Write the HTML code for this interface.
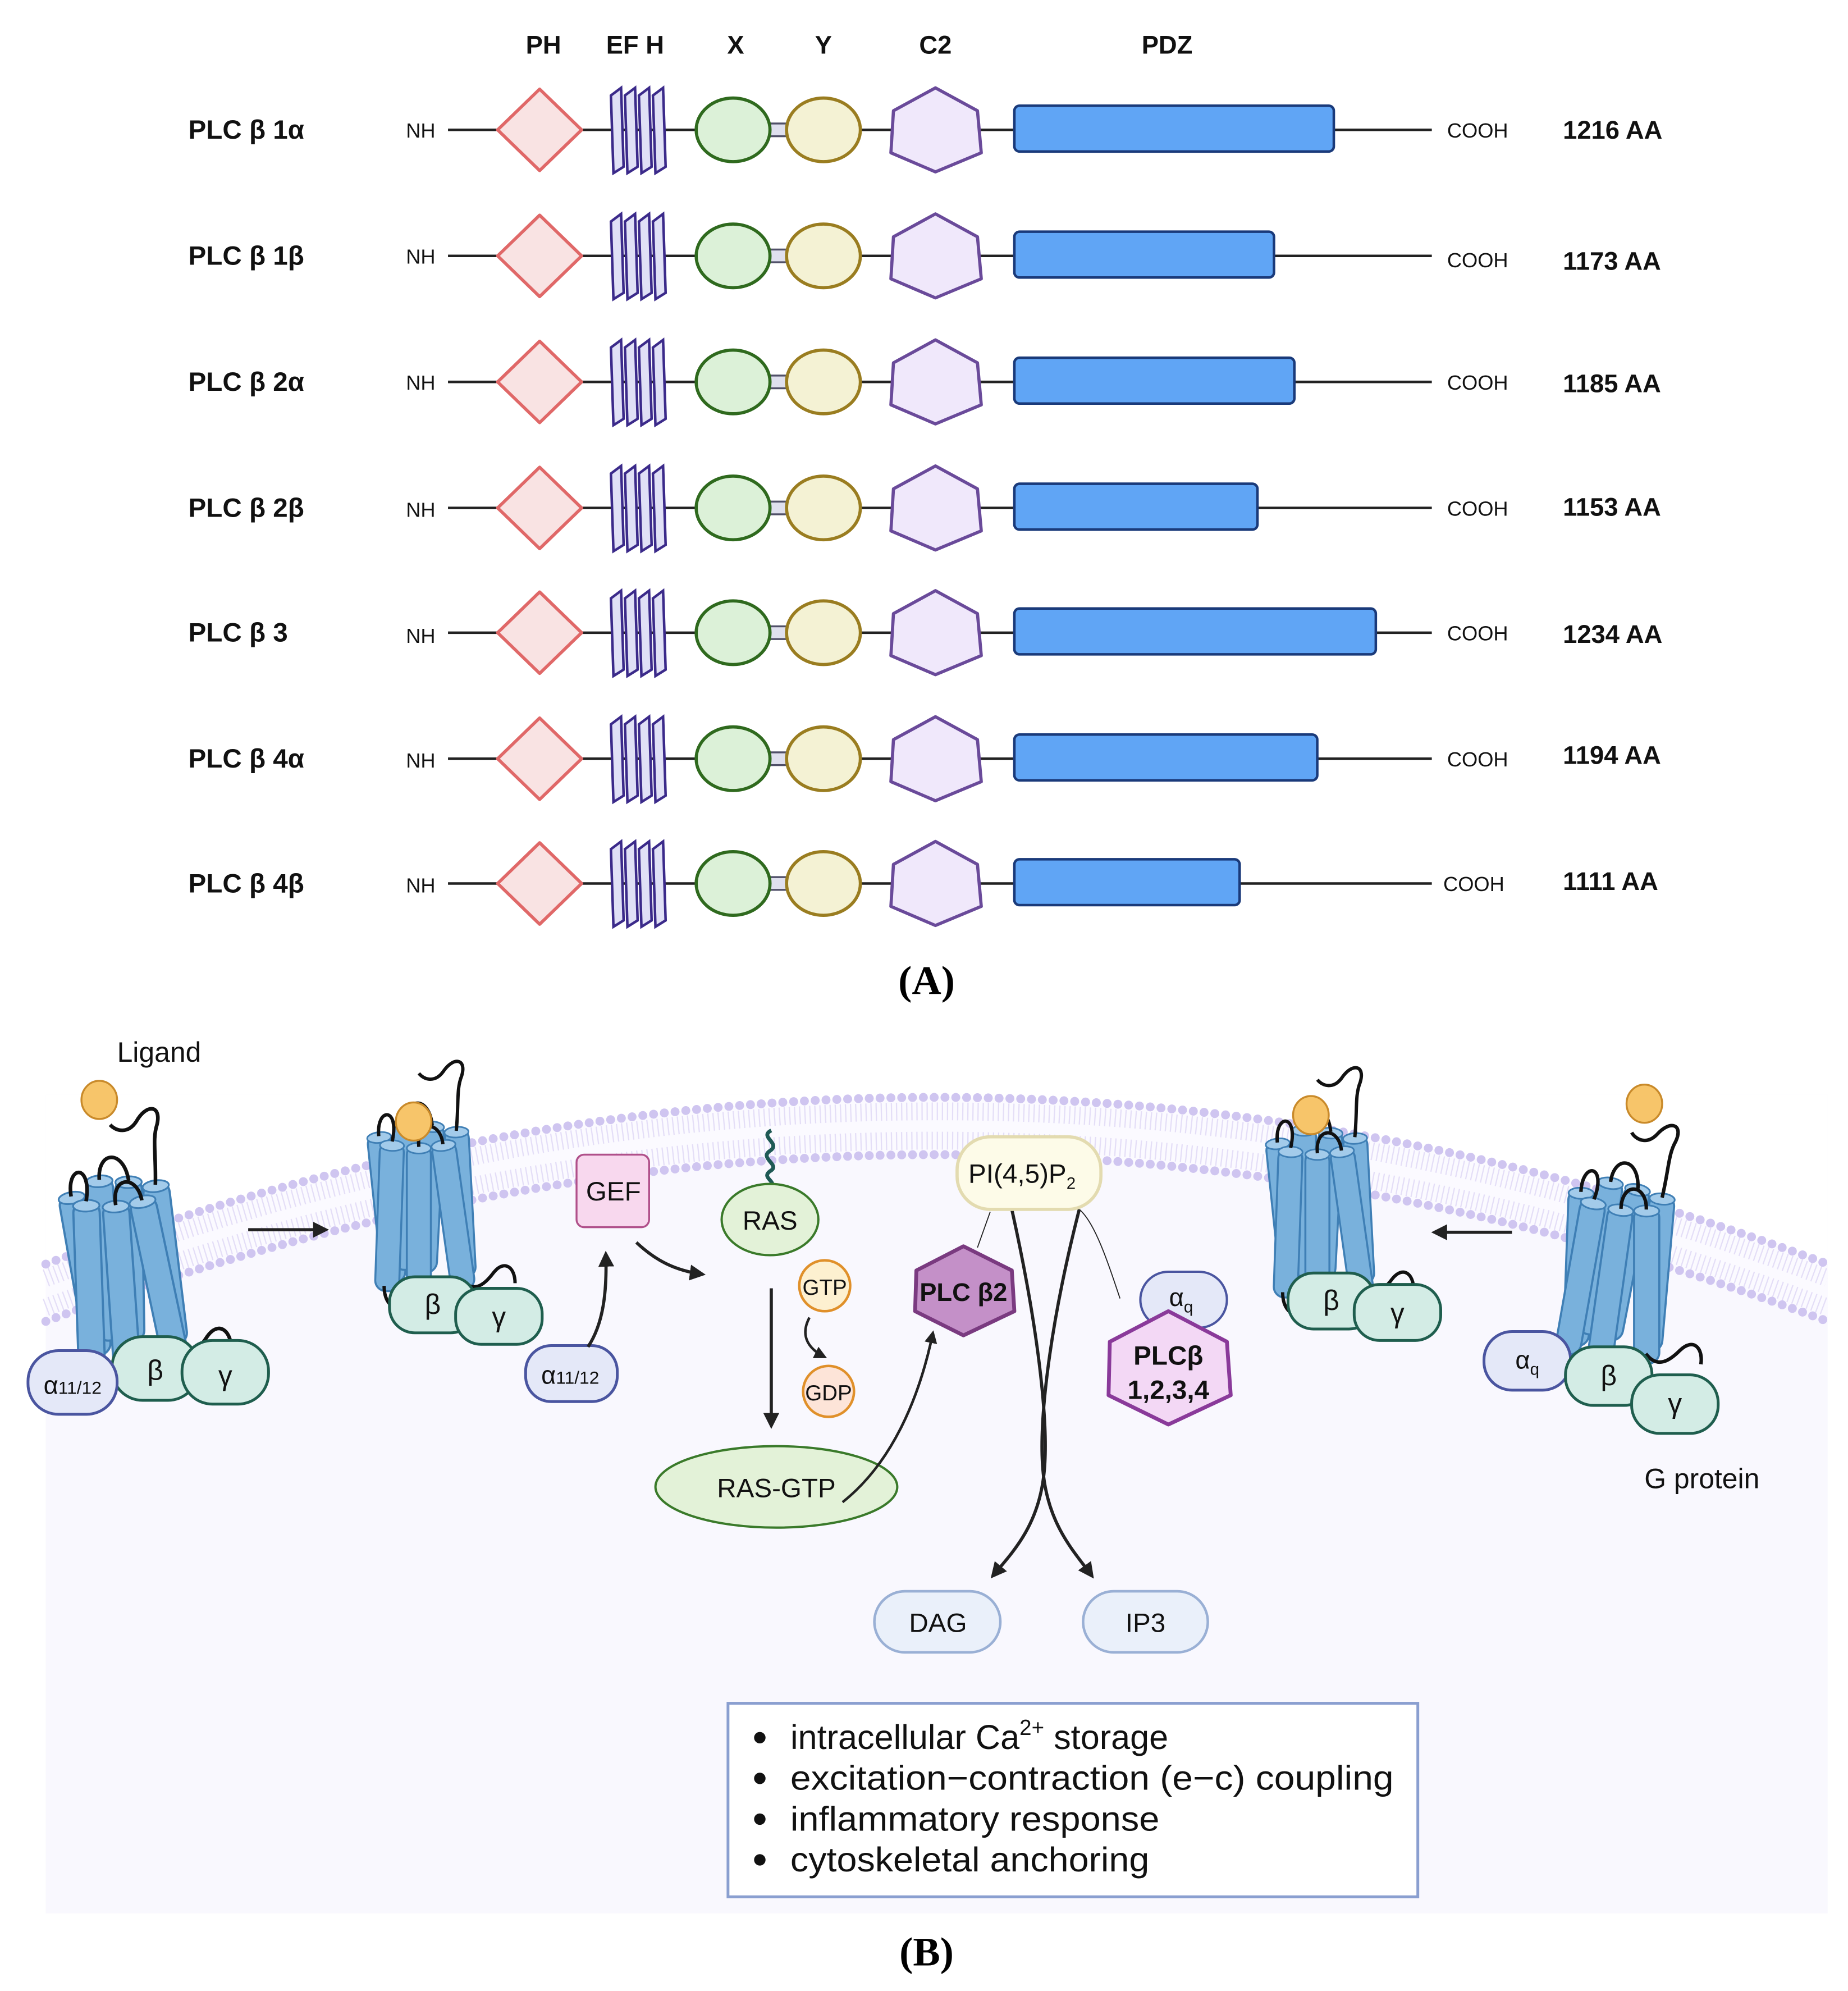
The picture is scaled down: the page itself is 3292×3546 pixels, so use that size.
<!DOCTYPE html>
<html><head><meta charset="utf-8"><style>
html,body{margin:0;padding:0;background:#fff;}
svg{display:block;}
text{font-family:"Liberation Sans",sans-serif;}
</style></head><body>
<svg width="3292" height="3546" viewBox="0 0 1452 1564" xmlns="http://www.w3.org/2000/svg">
<defs>
<g id="dom">
  <line x1="352" y1="0" x2="1125" y2="0" stroke="#222" stroke-width="2"/>
  <polygon points="424,-32 457,0 424,32 391,0" fill="#f9e3e3" stroke="#e06868" stroke-width="2.5" stroke-linejoin="round"/>
  <polygon points="480,-27 488,-33 490,29 482,34" fill="#e0e0f6" stroke="#3b2a8a" stroke-width="2"/>
  <polygon points="491,-27 499,-33 501,29 493,34" fill="#e0e0f6" stroke="#3b2a8a" stroke-width="2"/>
  <polygon points="502,-27 510,-33 512,29 504,34" fill="#e0e0f6" stroke="#3b2a8a" stroke-width="2"/>
  <polygon points="513,-27 521,-33 523,29 515,34" fill="#e0e0f6" stroke="#3b2a8a" stroke-width="2"/>
  <rect x="602" y="-5" width="20" height="10" fill="#dfe0ee" stroke="#505068" stroke-width="1.5"/>
  <ellipse cx="576" cy="0" rx="29" ry="25" fill="#dcf1d8" stroke="#2f6a1e" stroke-width="2.5"/>
  <ellipse cx="647" cy="0" rx="29" ry="25" fill="#f4f2d4" stroke="#9a7d20" stroke-width="2.5"/>
  <polygon points="735,-33 768,-15 771,18 735,33 700,18 702,-15" fill="#f0e8fb" stroke="#6a4a9a" stroke-width="2.5" stroke-linejoin="round"/>
</g>
<g id="cyl">
  <rect x="-9" y="0" width="18" height="112" rx="8" fill="#79b1dc" stroke="#3f7fb5" stroke-width="1.5"/>
  <ellipse cx="0" cy="3" rx="9" ry="4" fill="#a3cbea" stroke="#3f7fb5" stroke-width="1.2"/>
</g>
<g id="rec">
  <use href="#cyl" transform="translate(-28,-52) rotate(-6)"/>
  <use href="#cyl" transform="translate(-8,-62)"/>
  <use href="#cyl" transform="translate(12,-60) rotate(3)"/>
  <use href="#cyl" transform="translate(30,-56) rotate(-3)"/>
  <use href="#cyl" transform="translate(-18,-46) rotate(2)"/>
  <use href="#cyl" transform="translate(2,-44)"/>
  <use href="#cyl" transform="translate(20,-46) rotate(-8)"/>
  <path d="M-28,-50 C-30,-72 -12,-72 -18,-46" fill="none" stroke="#111" stroke-width="2.5"/>
  <path d="M-8,-60 C-8,-80 10,-80 12,-58" fill="none" stroke="#111" stroke-width="2.5"/>
  <path d="M2,-42 C0,-62 18,-62 20,-44" fill="none" stroke="#111" stroke-width="2.5"/>
  <path d="M30,-54 C32,-75 30,-85 34,-95 C38,-108 28,-110 20,-98 C14,-90 6,-92 2,-97" fill="none" stroke="#111" stroke-width="2.5"/>
  <path d="M-24,62 C-24,72 -20,78 -12,80" fill="none" stroke="#111" stroke-width="2.5"/>
  <path d="M34,58 C44,68 52,60 58,52 C66,42 74,48 74,60" fill="none" stroke="#111" stroke-width="2.5"/>
</g>
<marker id="ah" viewBox="0 0 10 10" refX="8" refY="5" markerWidth="5" markerHeight="5" orient="auto"><path d="M0,0 L10,5 L0,10 z" fill="#222"/></marker>
</defs>

<g font-weight="bold" font-size="20" text-anchor="middle" fill="#111">
<text x="427" y="42">PH</text><text x="499" y="42">EF H</text><text x="578" y="42">X</text><text x="647" y="42">Y</text><text x="735" y="42">C2</text><text x="917" y="42">PDZ</text>
</g>

<g transform="translate(0,102)"><use href="#dom"/><rect x="797" y="-19" width="251" height="36" rx="4" fill="#60a5f5" stroke="#1a3a7a" stroke-width="2"/></g>
<g transform="translate(0,201)"><use href="#dom"/><rect x="797" y="-19" width="204" height="36" rx="4" fill="#60a5f5" stroke="#1a3a7a" stroke-width="2"/></g>
<g transform="translate(0,300)"><use href="#dom"/><rect x="797" y="-19" width="220" height="36" rx="4" fill="#60a5f5" stroke="#1a3a7a" stroke-width="2"/></g>
<g transform="translate(0,399)"><use href="#dom"/><rect x="797" y="-19" width="191" height="36" rx="4" fill="#60a5f5" stroke="#1a3a7a" stroke-width="2"/></g>
<g transform="translate(0,497)"><use href="#dom"/><rect x="797" y="-19" width="284" height="36" rx="4" fill="#60a5f5" stroke="#1a3a7a" stroke-width="2"/></g>
<g transform="translate(0,596)"><use href="#dom"/><rect x="797" y="-19" width="238" height="36" rx="4" fill="#60a5f5" stroke="#1a3a7a" stroke-width="2"/></g>
<g transform="translate(0,694)"><use href="#dom"/><rect x="797" y="-19" width="177" height="36" rx="4" fill="#60a5f5" stroke="#1a3a7a" stroke-width="2"/></g>

<g font-weight="bold" font-size="21" fill="#111">
<text x="148" y="109">PLC β 1α</text><text x="148" y="208">PLC β 1β</text><text x="148" y="307">PLC β 2α</text><text x="148" y="406">PLC β 2β</text><text x="148" y="504">PLC β 3</text><text x="148" y="603">PLC β 4α</text><text x="148" y="701">PLC β 4β</text>
</g>
<g font-weight="bold" font-size="20" fill="#111">
<text x="1228" y="109">1216 AA</text><text x="1228" y="212">1173 AA</text><text x="1228" y="308">1185 AA</text><text x="1228" y="405">1153 AA</text><text x="1228" y="505">1234 AA</text><text x="1228" y="600">1194 AA</text><text x="1228" y="699">1111 AA</text>
</g>
<g font-size="16" fill="#111">
<text x="319" y="108">NH</text><text x="319" y="207">NH</text><text x="319" y="306">NH</text><text x="319" y="406">NH</text><text x="319" y="505">NH</text><text x="319" y="603">NH</text><text x="319" y="701">NH</text>
<text x="1137" y="108">COOH</text><text x="1137" y="210">COOH</text><text x="1137" y="306">COOH</text><text x="1137" y="405">COOH</text><text x="1137" y="503">COOH</text><text x="1137" y="602">COOH</text><text x="1134" y="700">COOH</text>
</g>
<text x="728" y="781" text-anchor="middle" font-weight="bold" font-size="32" style="font-family:'Liberation Serif',serif">(A)</text>

<rect x="36" y="860" width="1400" height="643" fill="#f9f8fe"/>
<path d="M36,860 L1436,860 L1436,993 Q736,731 36,993 Z" fill="#fff"/>
<path d="M36,993 Q736,731 1436,993 L1436,1038 Q736,776 36,1038 Z" fill="#fbfaff"/>
<path d="M36,1004 Q736,742 1436,1004 M36,1027 Q736,765 1436,1027" fill="none" stroke="#e4def7" stroke-width="14" stroke-dasharray="1 3"/>
<path d="M36,993 Q736,731 1436,993" fill="none" stroke="#cfc5f0" stroke-width="7" stroke-linecap="round" stroke-dasharray="0 8.5"/>
<path d="M36,1038 Q736,776 1436,1038" fill="none" stroke="#cfc5f0" stroke-width="7" stroke-linecap="round" stroke-dasharray="0 8.5"/>

<g fill="#f7c56a" stroke="#c98a2a" stroke-width="1.5">
<ellipse cx="78" cy="864" rx="14" ry="15"/><ellipse cx="1292" cy="867" rx="14" ry="15"/>
</g>
<text x="92" y="834" font-size="22" fill="#111">Ligand</text>
<text x="1292" y="1169" font-size="22" fill="#111">G protein</text>

<use href="#rec" transform="translate(92,995) scale(1.15) rotate(-4)"/>
<use href="#rec" transform="translate(327,945) scale(1.05)"/>
<use href="#rec" transform="translate(1033,950) scale(1.05)"/>
<use href="#rec" transform="translate(1265,995) scale(1.1) rotate(8)"/>
<g fill="#f7c56a" stroke="#c98a2a" stroke-width="1.5">
<ellipse cx="325" cy="881" rx="14" ry="15"/><ellipse cx="1030" cy="876" rx="14" ry="15"/>
</g>

<g stroke-width="2.2" font-size="22" text-anchor="middle">
<rect x="88" y="1050" width="68" height="50" rx="24" fill="#d3ece5" stroke="#1f5e4e"/>
<rect x="143" y="1053" width="68" height="50" rx="24" fill="#d3ece5" stroke="#1f5e4e"/>
<rect x="22" y="1061" width="70" height="50" rx="24" fill="#e4e8f8" stroke="#4a55a0"/>
<text x="122" y="1084" fill="#111">β</text><text x="177" y="1088" fill="#111">γ</text>
<text x="57" y="1095" fill="#111" font-size="20">α<tspan font-size="14">11/12</tspan></text>

<rect x="306" y="1003" width="68" height="44" rx="20" fill="#d3ece5" stroke="#1f5e4e"/>
<rect x="358" y="1012" width="68" height="44" rx="20" fill="#d3ece5" stroke="#1f5e4e"/>
<text x="340" y="1032" fill="#111">β</text><text x="392" y="1042" fill="#111">γ</text>
<rect x="413" y="1057" width="72" height="44" rx="20" fill="#e4e8f8" stroke="#4a55a0"/>
<text x="448" y="1087" fill="#111" font-size="20">α<tspan font-size="14">11/12</tspan></text>

<rect x="1012" y="1000" width="68" height="44" rx="20" fill="#d3ece5" stroke="#1f5e4e"/>
<rect x="1064" y="1009" width="68" height="44" rx="20" fill="#d3ece5" stroke="#1f5e4e"/>
<text x="1046" y="1029" fill="#111">β</text><text x="1098" y="1039" fill="#111">γ</text>

<rect x="1166" y="1046" width="68" height="46" rx="22" fill="#e4e8f8" stroke="#4a55a0"/>
<rect x="1230" y="1058" width="68" height="46" rx="22" fill="#d3ece5" stroke="#1f5e4e"/>
<rect x="1282" y="1080" width="68" height="46" rx="22" fill="#d3ece5" stroke="#1f5e4e"/>
<text x="1200" y="1075" fill="#111" font-size="20">α<tspan font-size="13" dy="5">q</tspan></text>
<text x="1264" y="1088" fill="#111">β</text><text x="1316" y="1110" fill="#111">γ</text>
</g>

<g fill="none" stroke="#222" stroke-width="2.5" marker-end="url(#ah)">
<line x1="195" y1="966" x2="256" y2="966"/>
<line x1="1188" y1="968" x2="1127" y2="968"/>
<path d="M462,1058 C474,1040 477,1015 476,985"/>
<path d="M500,976 C515,990 530,998 552,1001"/>
<line x1="606" y1="1012" x2="606" y2="1120"/>
<path d="M636,1035 C628,1050 636,1060 648,1066" stroke-width="2"/>
<path d="M662,1180 C700,1150 722,1100 733,1047" stroke-width="2"/>
<path d="M795,950 C815,1040 825,1120 820,1160 C815,1200 795,1220 780,1238" stroke-width="2.5"/>
<path d="M848,950 C825,1040 815,1120 820,1160 C825,1200 845,1220 858,1238" stroke-width="2.5"/>
</g>
<path d="M778,952 L768,980" stroke="#222" stroke-width="0.8" fill="none"/>
<path d="M848,950 C860,960 870,990 880,1020" stroke="#222" stroke-width="0.8" fill="none"/>

<rect x="453" y="907" width="57" height="57" rx="6" fill="#f8d8ee" stroke="#b0508a" stroke-width="1.5"/>
<text x="482" y="943" font-size="21" text-anchor="middle" fill="#111">GEF</text>
<path d="M606,888 C596,893 614,898 605,904 C596,910 614,915 605,920 C598,925 610,928 606,932" fill="none" stroke="#1f5a55" stroke-width="3"/>
<ellipse cx="605" cy="958" rx="38" ry="28" fill="#e3f2d8" stroke="#3a7a2a" stroke-width="1.8"/>
<text x="605" y="966" font-size="21" text-anchor="middle" fill="#111">RAS</text>
<circle cx="648" cy="1010" r="20" fill="#fdf0d0" stroke="#e0902a" stroke-width="2"/>
<text x="648" y="1017" font-size="17" text-anchor="middle" fill="#111">GTP</text>
<circle cx="651" cy="1093" r="20" fill="#fde4d8" stroke="#e0902a" stroke-width="2"/>
<text x="651" y="1100" font-size="17" text-anchor="middle" fill="#111">GDP</text>
<ellipse cx="610" cy="1168" rx="95" ry="32" fill="#e3f2d8" stroke="#3a7a2a" stroke-width="1.8"/>
<text x="610" y="1176" font-size="21" text-anchor="middle" fill="#111">RAS-GTP</text>
<path d="M662,1180 C700,1150 722,1100 733,1047" fill="none" stroke="#222" stroke-width="2"/>

<rect x="752" y="893" width="113" height="57" rx="26" fill="#fdfbe8" stroke="#e3dbb0" stroke-width="2.5"/>
<text x="803" y="929" font-size="21" text-anchor="middle" fill="#111">PI(4,5)P<tspan font-size="13" dy="5">2</tspan></text>
<polygon points="757,979 795,998 797,1030 757,1049 719,1030 720,998" fill="#c490c8" stroke="#7a3a80" stroke-width="3" stroke-linejoin="round"/>
<text x="757" y="1022" font-size="20" font-weight="bold" text-anchor="middle" fill="#111">PLC β2</text>
<rect x="896" y="999" width="68" height="44" rx="22" fill="#e4e8f8" stroke="#4a55a0" stroke-width="1.8"/>
<text x="928" y="1026" font-size="20" text-anchor="middle" fill="#111">α<tspan font-size="13" dy="5">q</tspan></text>
<polygon points="918,1030 964,1054 967,1096 918,1119 871,1096 872,1054" fill="#f3d8f5" stroke="#8a3a9a" stroke-width="3" stroke-linejoin="round"/>
<text x="918" y="1072" font-size="21" font-weight="bold" text-anchor="middle" fill="#111">PLCβ</text>
<text x="918" y="1099" font-size="21" font-weight="bold" text-anchor="middle" fill="#111">1,2,3,4</text>

<rect x="687" y="1250" width="99" height="48" rx="24" fill="#eaf0fa" stroke="#9ab0d5" stroke-width="2"/>
<text x="737" y="1282" font-size="21" text-anchor="middle" fill="#111">DAG</text>
<rect x="851" y="1250" width="98" height="48" rx="24" fill="#eaf0fa" stroke="#9ab0d5" stroke-width="2"/>
<text x="900" y="1282" font-size="21" text-anchor="middle" fill="#111">IP3</text>

<rect x="572" y="1338" width="542" height="152" fill="#fff" stroke="#8a9fd0" stroke-width="2.2"/>
<g font-size="27" fill="#111">
<circle cx="597" cy="1365" r="4.5"/><circle cx="597" cy="1397" r="4.5"/><circle cx="597" cy="1429" r="4.5"/><circle cx="597" cy="1461" r="4.5"/>
<text x="621" y="1374">intracellular Ca<tspan font-size="17" dy="-11">2+</tspan><tspan dy="11"> storage</tspan></text>
<text x="621" y="1406" textLength="474" lengthAdjust="spacingAndGlyphs">excitation−contraction (e−c) coupling</text>
<text x="621" y="1438" textLength="290" lengthAdjust="spacingAndGlyphs">inflammatory response</text>
<text x="621" y="1470" textLength="282" lengthAdjust="spacingAndGlyphs">cytoskeletal anchoring</text>
</g>
<text x="728" y="1544" text-anchor="middle" font-weight="bold" font-size="32" style="font-family:'Liberation Serif',serif">(B)</text>
</svg>
</body></html>
